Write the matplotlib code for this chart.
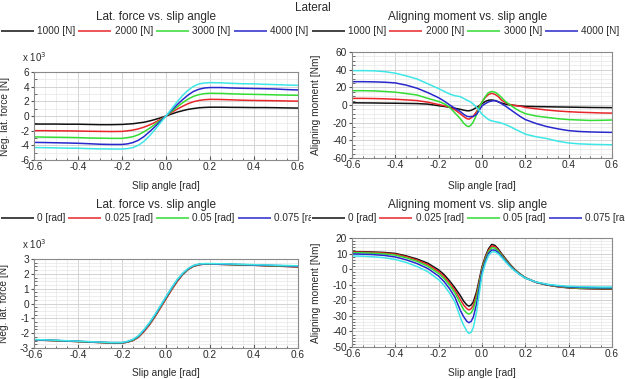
import numpy as np
import matplotlib
matplotlib.use("Agg")
import matplotlib.pyplot as plt
from matplotlib.ticker import MultipleLocator

plt.rcParams['font.family'] = ['Liberation Sans', 'DejaVu Sans']
plt.rcParams['axes.unicode_minus'] = False

# ---- data ----
load_labels = ['1000 [N]', '2000 [N]', '3000 [N]', '4000 [N]', '5000 [N]']
camber_labels = ['0 [rad]', '0.025 [rad]', '0.05 [rad]', '0.075 [rad]', '0.1 [rad]']
colors = ['#111111', '#e8262a', '#33dd33', '#2828cc', '#3ee6e6']

# slip angle grid for the lateral force plots
slip_f = [-0.6, -0.55, -0.5, -0.45, -0.4, -0.35, -0.3, -0.25, -0.2, -0.175, -0.15,
          -0.125, -0.1, -0.075, -0.05, -0.025, 0.0, 0.025, 0.05, 0.075, 0.1, 0.125,
          0.15, 0.175, 0.2, 0.25, 0.3, 0.35, 0.4, 0.45, 0.5, 0.55, 0.6]

# lateral force (x 10^3 N), load variation
fy_1000 = [-1.1, -1.1, -1.1, -1.12, -1.12, -1.15, -1.18, -1.18, -1.15, -1.1, -1.05,
           -0.95, -0.85, -0.68, -0.48, -0.25, 0.0, 0.27, 0.52, 0.72, 0.9, 1.02,
           1.12, 1.17, 1.2, 1.2, 1.18, 1.17, 1.15, 1.15, 1.13, 1.1, 1.08]
fy_2000 = [-2.0, -2.0, -2.02, -2.03, -2.05, -2.08, -2.1, -2.12, -2.1, -2.02, -1.92,
           -1.75, -1.52, -1.22, -0.88, -0.45, 0.0, 0.48, 0.92, 1.32, 1.68, 1.95,
           2.12, 2.22, 2.27, 2.25, 2.2, 2.15, 2.12, 2.1, 2.08, 2.05, 2.02]
fy_3000 = [-2.85, -2.88, -2.9, -2.92, -2.95, -3.0, -3.02, -3.05, -3.05, -2.95, -2.82,
           -2.55, -2.15, -1.68, -1.15, -0.58, 0.0, 0.62, 1.22, 1.8, 2.3, 2.68,
           2.92, 3.05, 3.1, 3.08, 3.02, 2.98, 2.95, 2.92, 2.88, 2.85, 2.82]
fy_4000 = [-3.6, -3.62, -3.65, -3.68, -3.72, -3.78, -3.85, -3.88, -3.88, -3.8, -3.62,
           -3.3, -2.8, -2.15, -1.45, -0.72, 0.0, 0.78, 1.52, 2.22, 2.85, 3.35,
           3.65, 3.82, 3.88, 3.88, 3.82, 3.78, 3.75, 3.72, 3.68, 3.6, 3.55]
fy_5000 = [-4.3, -4.32, -4.35, -4.38, -4.4, -4.45, -4.48, -4.5, -4.5, -4.45, -4.3,
           -3.98, -3.45, -2.7, -1.85, -0.92, 0.0, 0.95, 1.9, 2.78, 3.5, 4.05,
           4.38, 4.5, 4.55, 4.52, 4.45, 4.4, 4.38, 4.32, 4.28, 4.22, 4.18]

# lateral force (x 10^3 N), camber variation
fyc_0 = [-2.46, -2.48, -2.5, -2.53, -2.56, -2.6, -2.63, -2.66, -2.66, -2.6, -2.48,
         -2.25, -1.85, -1.4, -0.85, -0.25, 0.35, 0.95, 1.5, 1.95, 2.3, 2.52,
         2.62, 2.66, 2.66, 2.64, 2.62, 2.6, 2.58, 2.55, 2.52, 2.5, 2.47]
fyc_025 = [-2.46, -2.48, -2.51, -2.54, -2.57, -2.6, -2.63, -2.66, -2.66, -2.61, -2.5,
           -2.28, -1.9, -1.44, -0.9, -0.3, 0.3, 0.9, 1.46, 1.93, 2.28, 2.5,
           2.61, 2.66, 2.66, 2.64, 2.62, 2.6, 2.58, 2.55, 2.52, 2.5, 2.47]
fyc_05 = [-2.45, -2.47, -2.5, -2.53, -2.56, -2.59, -2.62, -2.65, -2.65, -2.59, -2.47,
          -2.23, -1.83, -1.37, -0.82, -0.22, 0.38, 0.98, 1.53, 1.97, 2.31, 2.53,
          2.63, 2.67, 2.67, 2.65, 2.63, 2.61, 2.59, 2.57, 2.54, 2.52, 2.5]
fyc_075 = [-2.44, -2.46, -2.49, -2.52, -2.55, -2.58, -2.61, -2.64, -2.64, -2.57, -2.44,
           -2.2, -1.8, -1.33, -0.78, -0.18, 0.42, 1.02, 1.56, 2.0, 2.33, 2.55,
           2.64, 2.68, 2.68, 2.66, 2.64, 2.62, 2.6, 2.58, 2.56, 2.54, 2.52]
fyc_1 = [-2.43, -2.45, -2.48, -2.51, -2.54, -2.57, -2.6, -2.63, -2.63, -2.55, -2.42,
         -2.17, -1.76, -1.29, -0.74, -0.14, 0.46, 1.06, 1.6, 2.03, 2.36, 2.57,
         2.66, 2.69, 2.69, 2.68, 2.66, 2.64, 2.62, 2.6, 2.58, 2.56, 2.54]

# slip angle grid for the aligning moment plots
slip_m = [-0.6, -0.55, -0.5, -0.45, -0.4, -0.35, -0.3, -0.25, -0.2, -0.175, -0.15,
          -0.125, -0.1, -0.085, -0.07, -0.06, -0.05, -0.04, -0.025, -0.01, 0.0,
          0.015, 0.03, 0.045, 0.06, 0.075, 0.09, 0.11, 0.13, 0.15, 0.175, 0.2,
          0.25, 0.3, 0.35, 0.4, 0.45, 0.5, 0.55, 0.6]

# aligning moment (Nm), load variation
mz_1000 = [2.5, 2.4, 2.3, 2.1, 2.0, 1.8, 1.6, 1.0, -0.8, -1.6, -2.6,
           -3.7, -4.9, -5.8, -6.5, -6.6, -6.0, -4.9, -2.8, -0.3, 1.5,
           4.0, 5.4, 5.7, 5.0, 3.6, 2.2, 0.9, 0.0, -0.5, -1.0, -1.5,
           -1.8, -2.0, -2.2, -2.4, -2.6, -2.8, -2.9, -3.0]
mz_2000 = [7.5, 7.5, 7.3, 7.0, 6.5, 5.8, 5.0, 3.2, 0.5, -0.8, -2.6,
           -5.5, -10.0, -13.0, -15.5, -16.0, -14.5, -12.5, -7.5, -1.0, 3.5,
           8.5, 11.8, 13.2, 12.0, 9.5, 5.5, 2.5, 0.5, -0.5, -1.3, -2.8,
           -4.3, -5.7, -6.8, -7.6, -8.2, -8.6, -9.0, -9.2]
mz_3000 = [16.2, 16.2, 16.0, 15.3, 14.5, 13.0, 11.3, 7.5, 4.0, 1.5, -2.5,
           -9.0, -15.5, -20.5, -23.8, -24.5, -22.5, -19.0, -11.0, -1.0, 3.0,
           9.5, 14.0, 15.3, 14.5, 12.0, 8.5, 3.5, 0.0, -3.5, -7.0, -9.8,
           -12.5, -14.0, -15.5, -16.5, -17.0, -17.5, -17.3, -17.0]
mz_4000 = [26.4, 26.4, 26.2, 25.8, 25.0, 22.5, 19.0, 14.0, 8.2, 4.5, 0.2,
           -3.8, -7.5, -10.5, -12.8, -13.2, -13.0, -13.0, -10.5, -5.0, -1.0,
           1.5, 3.5, 4.5, 5.0, 3.8, 1.5, -1.5, -5.0, -8.5, -12.8, -16.5,
           -21.0, -24.5, -27.0, -29.0, -30.0, -30.5, -30.8, -31.0]
mz_5000 = [38.9, 38.9, 38.7, 37.8, 36.0, 33.0, 29.5, 24.0, 18.5, 15.5, 12.5,
           10.5, 9.4, 7.5, 5.5, 4.5, 3.0, 1.0, -2.5, -7.0, -10.5,
           -13.5, -16.5, -18.0, -18.8, -19.5, -20.5, -22.3, -24.5, -27.0, -30.0, -33.0,
           -36.0, -38.0, -41.0, -43.0, -44.0, -44.5, -44.8, -45.0]

# aligning moment (Nm), camber variation
mzc_0 = [11.2, 11.2, 11.0, 10.7, 10.1, 8.5, 6.5, 3.8, -0.5, -3.5, -7.5,
         -12.0, -17.0, -20.5, -23.0, -23.8, -23.0, -21.0, -14.5, -5.0, 1.5,
         8.0, 13.0, 15.9, 15.2, 13.0, 10.0, 6.5, 3.0, 0.0, -3.0, -5.5,
         -8.5, -10.2, -11.3, -12.0, -12.4, -12.6, -12.8, -12.8]
mzc_025 = [11.0, 10.9, 10.7, 10.3, 9.6, 8.0, 5.8, 2.9, -1.6, -4.7, -8.8,
           -13.5, -19.5, -23.0, -25.4, -26.2, -25.4, -23.2, -16.3, -6.3, 0.5,
           7.1, 12.1, 14.9, 14.4, 12.3, 9.4, 6.0, 2.6, -0.3, -3.2, -5.6,
           -8.5, -10.1, -11.2, -11.9, -12.3, -12.5, -12.6, -12.6]
mzc_05 = [10.6, 10.5, 10.2, 9.8, 9.0, 7.3, 5.0, 1.9, -2.8, -6.0, -10.2,
          -15.2, -22.0, -26.0, -28.2, -28.9, -28.0, -25.6, -18.2, -7.7, -0.5,
          6.3, 11.2, 13.8, 13.5, 11.6, 8.9, 5.6, 2.3, -0.5, -3.3, -5.6,
          -8.4, -10.0, -11.0, -11.7, -12.1, -12.3, -12.4, -12.4]
mzc_075 = [9.8, 9.6, 9.3, 8.8, 7.8, 6.0, 3.6, 0.4, -4.5, -8.0, -12.5,
           -18.0, -26.5, -30.5, -33.5, -34.4, -33.5, -30.8, -22.3, -10.0, -2.0,
           5.0, 10.0, 12.3, 12.2, 10.6, 8.2, 5.0, 1.9, -0.8, -3.5, -5.7,
           -8.4, -9.9, -10.8, -11.4, -11.7, -11.9, -12.0, -12.0]
mzc_1 = [8.5, 8.3, 7.9, 7.3, 6.2, 4.3, 1.7, -1.6, -6.8, -10.5, -15.3,
         -21.2, -31.0, -36.0, -39.8, -41.3, -40.5, -37.5, -27.5, -13.0, -4.0,
         3.5, 8.7, 11.0, 11.1, 9.8, 7.6, 4.5, 1.5, -1.0, -3.6, -5.8,
         -8.3, -9.7, -10.5, -11.0, -11.3, -11.4, -11.5, -11.5]

W, H = 625, 379
TXT = '#2a2a2a'


def px_rect(x0, y0, x1, y1):
    return [x0 / W, 1 - y1 / H, (x1 - x0) / W, (y1 - y0) / H]


def style_axes(ax, ylim, ymajor, yminor, ylabel, ylab_x, xlab_top):
    ax.set_xlim(-0.6, 0.6)
    ax.set_ylim(*ylim)
    ax.xaxis.set_major_locator(MultipleLocator(0.2))
    ax.xaxis.set_minor_locator(MultipleLocator(0.05))
    ax.yaxis.set_major_locator(MultipleLocator(ymajor))
    ax.yaxis.set_minor_locator(MultipleLocator(yminor))
    ax.set_xticklabels([f'{v:.1f}' for v in ax.get_xticks()])
    ax.grid(which='major', color='#cccccc', lw=0.6)
    ax.grid(which='minor', color='#e6e6e6', lw=0.5)
    ax.set_axisbelow(True)
    for s in ax.spines.values():
        s.set_color('#8a8a8a')
        s.set_linewidth(0.8)
    ax.tick_params(axis='x', which='major', direction='in', length=3, pad=1.5,
                   labelsize=7.3, colors='#555555', labelcolor=TXT)
    ax.tick_params(axis='x', which='minor', direction='in', length=1.8, colors='#555555')
    ax.tick_params(axis='y', which='major', direction='out', length=2.5, pad=1,
                   labelsize=7.3, colors='#555555', labelcolor=TXT)
    ax.tick_params(axis='y', which='minor', direction='in', length=1.8, colors='#555555')
    ax.set_xlabel('Slip angle [rad]', fontsize=7.3, color=TXT)
    bb = ax.get_position()
    ax.xaxis.set_label_coords((bb.x0 + bb.x1) / 2, 1 - xlab_top / H,
                              transform=ax.figure.transFigure)
    ax.set_ylabel(ylabel, fontsize=7.3, color=TXT)
    ax.yaxis.set_label_coords(ylab_x, 0.5)


def legend_row(fig, rect, labels, renderer):
    # one row of legend entries, laid out left to right and cut at the panel edge
    lax = fig.add_axes(rect)
    lax.set_axis_off()
    width_px = rect[2] * W
    lax.set_xlim(0, width_px)
    lax.set_ylim(0, 1)
    x = 0.5
    for lab, col in zip(labels, colors):
        lax.plot([x, x + 33], [0.5, 0.5], color=col, lw=1.1, solid_capstyle='butt')
        t = lax.text(x + 36.5, 0.5, lab, fontsize=7.2, color=TXT, va='center', ha='left')
        t.set_clip_on(True)
        t.set_clip_box(lax.bbox)
        x += 36.5 + t.get_window_extent(renderer).width + 3


fig = plt.figure(figsize=(6.25, 3.79), dpi=100)
renderer = fig.canvas.get_renderer()

ax1 = fig.add_axes(px_rect(34, 72, 298, 160))
ax2 = fig.add_axes(px_rect(352, 52, 612, 158))
ax3 = fig.add_axes(px_rect(34, 259, 298, 348))
ax4 = fig.add_axes(px_rect(352, 238, 612, 347))

for ys, c in zip([fy_1000, fy_2000, fy_3000, fy_4000, fy_5000], colors):
    ax1.plot(slip_f, ys, color=c, lw=1.1)
for ys, c in zip([mz_1000, mz_2000, mz_3000, mz_4000, mz_5000], colors):
    ax2.plot(slip_m, ys, color=c, lw=1.1)
for ys, c in zip([fyc_0, fyc_025, fyc_05, fyc_075, fyc_1], colors):
    ax3.plot(slip_f, ys, color=c, lw=1.1)
for ys, c in zip([mzc_0, mzc_025, mzc_05, mzc_075, mzc_1], colors):
    ax4.plot(slip_m, ys, color=c, lw=1.1)

style_axes(ax1, (-6, 6), 2, 1, 'Neg. lat. force [N]', -0.091, 181)
style_axes(ax2, (-60, 60), 20, 5, 'Aligning moment [Nm]', -0.119, 181)
style_axes(ax3, (-3, 3), 1, 0.25, 'Neg. lat. force [N]', -0.095, 368)
style_axes(ax4, (-50, 20), 10, 2, 'Aligning moment [Nm]', -0.119, 368)

# titles
fig.text(0.5, 1 - 8 / H, 'Lateral', ha='center', va='center', fontsize=8.5, color=TXT)
for yc in (17, 205):
    fig.text(156 / W, 1 - yc / H, 'Lat. force vs. slip angle', ha='center', va='center',
             fontsize=8.5, color=TXT)
    fig.text(468 / W, 1 - yc / H, 'Aligning moment vs. slip angle', ha='center',
             va='center', fontsize=8.5, color=TXT)
for yc in (57, 244):
    fig.text(22 / W, 1 - yc / H, r'x 10$^3$', ha='left', va='center', fontsize=7,
             color=TXT)

# legend rows (clipped to each panel's half)
legend_row(fig, px_rect(0, 24, 311, 38), load_labels, renderer)
legend_row(fig, px_rect(311, 24, 622, 38), load_labels, renderer)
legend_row(fig, px_rect(0, 211, 311, 225), camber_labels, renderer)
legend_row(fig, px_rect(311, 211, 625, 225), camber_labels, renderer)

fig.savefig('out.png', dpi=100)
